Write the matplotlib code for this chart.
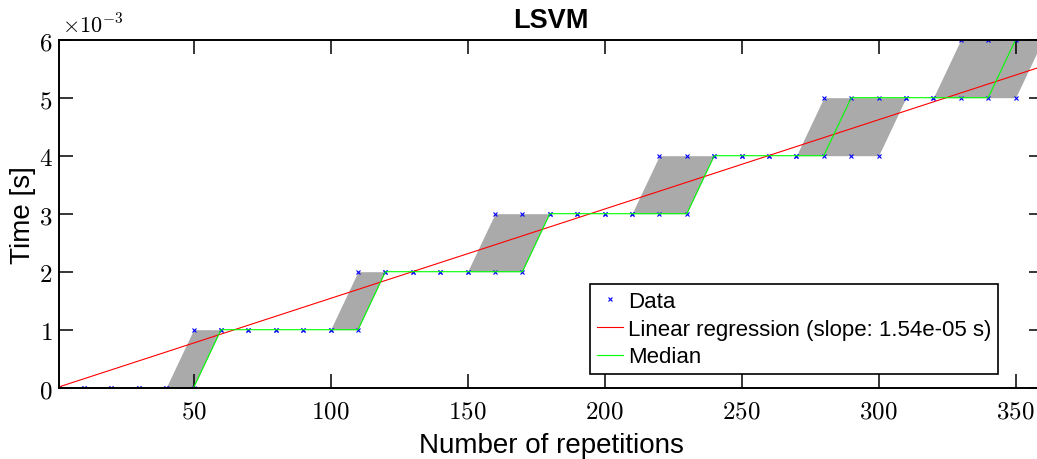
import matplotlib
matplotlib.use("Agg")
import matplotlib.pyplot as plt
from matplotlib.ticker import FuncFormatter
import numpy as np

# repetitions and measured time (units of 1e-3 s)
reps = [1, 10, 20, 30, 40, 50, 60, 70, 80, 90, 100, 110, 120, 130, 140, 150, 160, 170,
        180, 190, 200, 210, 220, 230, 240, 250, 260, 270, 280, 290, 300, 310, 320, 330,
        340, 350, 360]
t_low = [0, 0, 0, 0, 0, 0, 1, 1, 1, 1, 1, 1, 2, 2, 2, 2, 2, 2,
         3, 3, 3, 3, 3, 3, 4, 4, 4, 4, 4, 4, 4, 5, 5, 5,
         5, 5, 6]
t_high = [0, 0, 0, 0, 0, 1, 1, 1, 1, 1, 1, 2, 2, 2, 2, 2, 3, 3,
          3, 3, 3, 3, 4, 4, 4, 4, 4, 4, 5, 5, 5, 5, 5, 6,
          6, 6, 6]
t_median = [0, 0, 0, 0, 0, 0, 1, 1, 1, 1, 1, 1, 2, 2, 2, 2, 2, 2,
            3, 3, 3, 3, 3, 3, 4, 4, 4, 4, 4, 5, 5, 5, 5, 5,
            5, 6, 6]

slope = 1.54e-05      # s per repetition
intercept = -2e-08    # s

x = np.array(reps, dtype=float)
lo = np.array(t_low) * 1e-3
hi = np.array(t_high) * 1e-3
med = np.array(t_median) * 1e-3

plt.rcParams["font.family"] = ["Liberation Sans", "DejaVu Sans"]
plt.rcParams["mathtext.fontset"] = "cm"

fig = plt.figure(figsize=(10.37, 4.6), dpi=100)
W, H = 1037.0, 460.0
ax = fig.add_axes([59.3 / W, 71.3 / H, (1043 - 59.3) / W, 348 / H])

ax.fill_between(x, lo, hi, color="#aaaaaa", linewidth=0)

# every sample: lower and upper values
data_x = np.concatenate([x, x])
data_y = np.concatenate([lo, hi])
ax.plot(data_x, data_y, linestyle="none", marker="x", color="blue",
        markersize=3.5, markeredgewidth=0.8, label="Data")
ax.plot(x, slope * x + intercept, color="red", linewidth=0.8,
        label="Linear regression (slope: %.2e s)" % slope)
ax.plot(x, med, color="#00ff00", linewidth=0.8, label="Median")

ax.set_xlim(1, 360)
ax.set_ylim(0, 6e-3)
ax.set_xticks([50, 100, 150, 200, 250, 300, 350])
ax.set_yticks(np.arange(0, 7) * 1e-3)
ax.xaxis.set_major_formatter(FuncFormatter(lambda v, p: r"$%d$" % round(v)))
ax.yaxis.set_major_formatter(FuncFormatter(lambda v, p: r"$%d$" % round(v * 1e3)))
ax.tick_params(direction="in", top=True, right=True, length=10, width=1.1,
               labelsize=18)
ax.tick_params(axis="x", pad=8)
ax.tick_params(axis="y", pad=5)
for sp in ax.spines.values():
    sp.set_linewidth(1.4)

ax.text(0.003, 1.022, r"$\times 10^{-3}$", transform=ax.transAxes,
        fontsize=16, ha="left", va="baseline")

ax.set_title("LSVM", fontsize=19.5, fontweight="bold", pad=9)
ax.set_xlabel("Number of repetitions", fontsize=20, labelpad=6.5)
ax.set_ylabel("Time [s]", fontsize=20, labelpad=1.5)

leg = ax.legend(loc="lower right", bbox_to_anchor=(0.954, 0.039), fontsize=16,
                frameon=True, fancybox=False, framealpha=1, edgecolor="black",
                handlelength=1.2, handletextpad=0.2, labelspacing=0.3,
                borderpad=0.3, borderaxespad=0, markerscale=1)
leg.get_frame().set_linewidth(1.2)

fig.savefig("out.png", dpi=100)
